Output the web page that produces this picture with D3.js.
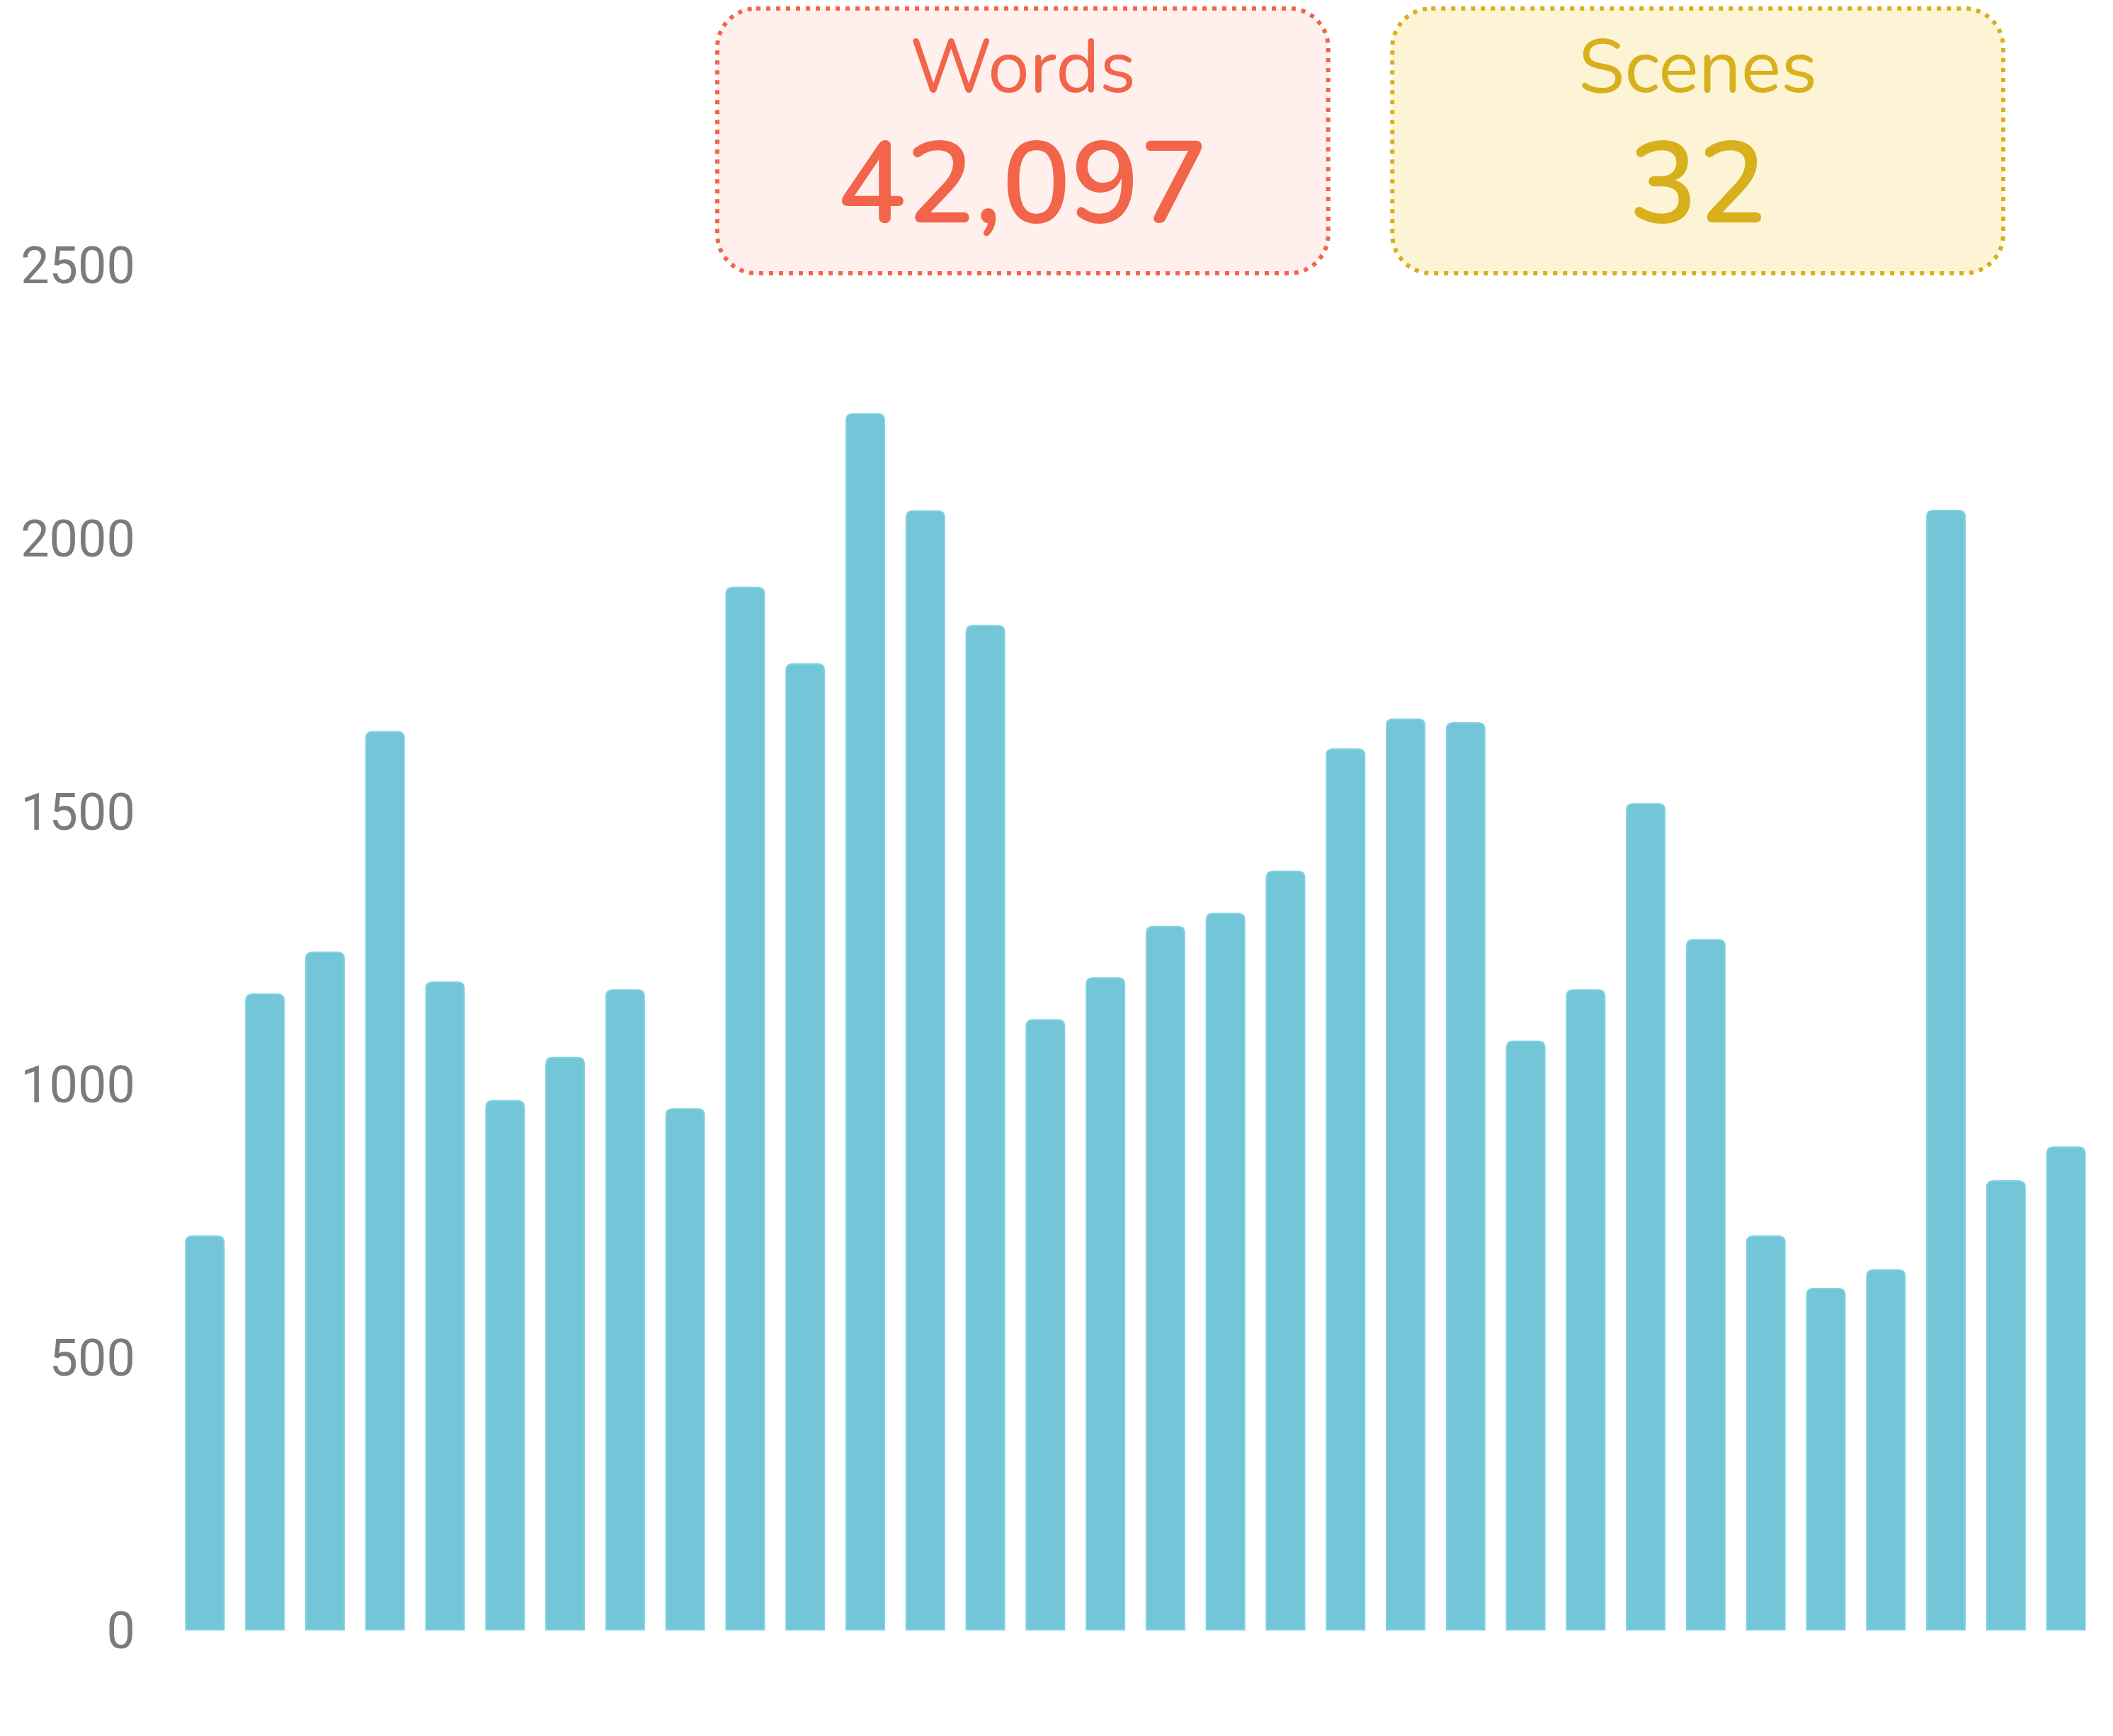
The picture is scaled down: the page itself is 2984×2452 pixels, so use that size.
<!DOCTYPE html>
<html>
<head>
<meta charset="utf-8">
<script src="https://cdn.jsdelivr.net/npm/d3@7"></script>
<style>
  html, body { margin: 0; padding: 0; background: #fff; }
  svg { display: block; }
</style>
</head>
<body>
<svg class="chart"></svg>
<script>
// words written per scene
var scenes = d3.range(1, 33).map(function(i){ return "Scene " + i; });
var words = [721, 1164, 1241, 1645, 1186, 969, 1048, 1172, 954, 1909,
             1769, 2227, 2049, 1839, 1117, 1194, 1288, 1312, 1389, 1613,
             1668, 1661, 1078, 1172, 1513, 1264, 721, 625, 659, 2050,
             822, 884];
var yTicks = [0, 500, 1000, 1500, 2000, 2500];

// summary cards
var cardLabels = ["Words", "Scenes"];
var cardValues = [42097, 32];

var width = 2984, height = 2452;
var margin = {top: 374, right: 24, bottom: 150, left: 247};

var chart = d3.select(".chart")
    .attr("width", width)
    .attr("height", height);

var xScale = d3.scaleBand()
    .domain(scenes)
    .range([margin.left, width - margin.right])
    .paddingInner(0.363)
    .paddingOuter(0.1815);

var yScale = d3.scaleLinear()
    .domain([0, 2500])
    .range([height - margin.bottom, margin.top]);

// y axis, labels only
var yAxis = chart.append("g")
    .attr("class", "axis y")
    .attr("transform", "translate(" + margin.left + ",0)")
    .call(d3.axisLeft(yScale)
      .tickValues(yTicks)
      .tickFormat(d3.format("d"))
      .tickSize(0)
      .tickPadding(56));
yAxis.select(".domain").remove();
yAxis.selectAll("text")
    .attr("fill", "#7b7b7b")
    .attr("dy", "0.36em")
    .style("font-family", "Roboto, sans-serif")
    .style("font-size", "72px");

// bars with rounded top corners
function barPath(x, y, w, h, r){
  r = Math.min(r, h, w/2);
  return "M" + x + "," + (y + h) +
    "V" + (y + r) +
    "Q" + x + "," + y + " " + (x + r) + "," + y +
    "H" + (x + w - r) +
    "Q" + (x + w) + "," + y + " " + (x + w) + "," + (y + r) +
    "V" + (y + h) + "Z";
}

chart.append("g")
    .attr("class", "bars")
  .selectAll("path")
    .data(words)
    .enter()
  .append("path")
    .attr("d", function(d, i){
      var x = xScale(scenes[i]), y = yScale(d);
      return barPath(x, y, xScale.bandwidth(), yScale(0) - y, 9);
    })
    .attr("fill", "#72c6d8")
    .attr("stroke", "#80d2e4")
    .attr("stroke-width", 2);

// summary cards across the top
var cardColors = ["#f2654a", "#d8b01c"];
var cardFills  = ["#fff0ed", "#fdf4d6"];
var cardX = d3.scaleBand()
    .domain(cardLabels)
    .range([1013, 2829])
    .paddingInner(0.095);

var cards = chart.append("g")
    .attr("class", "cards")
  .selectAll("g")
    .data(cardLabels)
    .enter()
  .append("g")
    .attr("transform", function(d){ return "translate(" + cardX(d) + ",12)"; });

cards.append("rect")
    .attr("width", cardX.bandwidth())
    .attr("height", 374)
    .attr("rx", 55)
    .attr("ry", 55)
    .attr("fill", function(d, i){ return cardFills[i]; })
    .attr("stroke", function(d, i){ return cardColors[i]; })
    .attr("stroke-width", 6)
    .attr("stroke-dasharray", "6 8");

cards.append("text")
    .attr("x", cardX.bandwidth()/2)
    .attr("y", 118)
    .attr("text-anchor", "middle")
    .attr("fill", function(d, i){ return cardColors[i]; })
    .style("font-family", "Nunito, Lato, sans-serif")
    .style("font-size", "106px")
    .text(function(d){ return d; });

cards.append("text")
    .attr("x", cardX.bandwidth()/2)
    .attr("y", 302)
    .attr("text-anchor", "middle")
    .attr("fill", function(d, i){ return cardColors[i]; })
    .style("font-family", "Nunito, Lato, sans-serif")
    .style("font-weight", "600")
    .style("font-size", "162px")
    .text(function(d, i){ return d3.format(",")(cardValues[i]); });
</script>
</body>
</html>
